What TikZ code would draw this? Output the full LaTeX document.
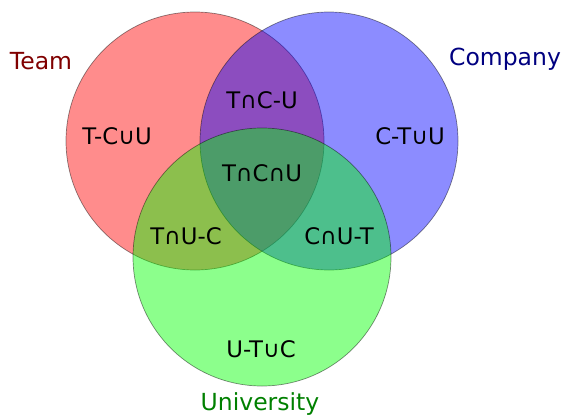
\documentclass[tikz,border=0pt]{standalone}
\usepackage{fontspec}
\setmainfont{DejaVu Sans}
\usepackage{xcolor}
\usepackage{tikz}
\usetikzlibrary{positioning}

\begin{document}
\begin{tikzpicture}[x=1pt, y=-1pt,
  set/.style={fill opacity=0.45, draw=black, draw opacity=0.45, line width=0.7pt},
  lbl/.style={font=\fontsize{22.8}{26}\selectfont, inner sep=0pt},
  title/.style={lbl, font=\fontsize{23.5}{27}\selectfont}
]
  \useasboundingbox (0,0) rectangle (561,415);

  % Sets, filled with transparency
  % Team
  \filldraw[set, fill=red] (195,141) circle [radius=129pt];
  % Company
  \filldraw[set, fill=blue] (329,141) circle [radius=129pt];
  % University
  \filldraw[set, fill=green] (262,257) circle [radius=129pt];

  % Set names
  \node[title, red!50!black] (team) at (41,61) {Team};
  \node[title, blue!50!black] (company) at (505,59) {Company};
  \node[title, green!50!black] (university) at (260,404) {University};

  % Regions
  \node[lbl] (tcu) at (117,136) {T-C∪U};
  \node[lbl] (ctu) at (410,136) {C-T∪U};
  \node[lbl] (utc) at (261,349) {U-T∪C};
  \node[lbl] (tandc) at (262,100) {T∩C-U};
  \node[lbl] (tandu) at (186,236) {T∩U-C};
  \node[lbl] (candu) at (339,236) {C∩U-T};
  \node[lbl] (all) at (262,173) {T∩C∩U};
\end{tikzpicture}
\end{document}
